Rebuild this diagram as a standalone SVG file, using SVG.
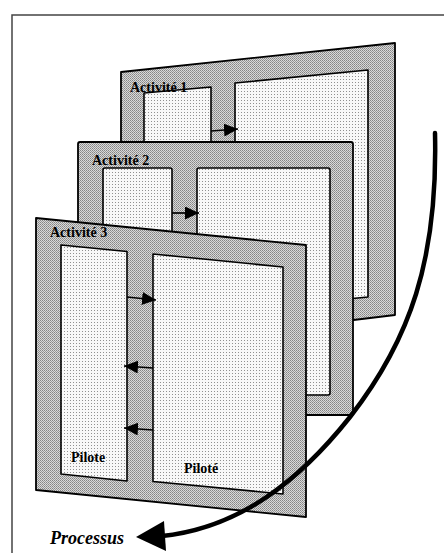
<svg xmlns="http://www.w3.org/2000/svg" width="444" height="553" viewBox="0 0 444 553">
<defs>
<pattern id="dense" width="2" height="2" patternUnits="userSpaceOnUse">
<rect width="2" height="2" fill="#d9d9d9"/>
<rect x="0" y="0" width="1" height="1" fill="#858585"/>
<rect x="1" y="1" width="1" height="1" fill="#9a9a9a"/>
</pattern>
<pattern id="light" width="3" height="3" patternUnits="userSpaceOnUse">
<rect width="3" height="3" fill="#f8f8f8"/>
<rect x="1" y="1" width="1" height="1" fill="#909090"/>
</pattern>
<marker id="ah" viewBox="0 0 14 13" refX="14" refY="6.5" markerWidth="14" markerHeight="13" markerUnits="userSpaceOnUse" orient="auto">
<path d="M0,0 L14,6.5 L0,13 Z" fill="#000"/>
</marker>
</defs>
<style>
.panel{fill:url(#dense);stroke:#000;stroke-width:1.8;stroke-linejoin:round}
.box{fill:url(#light);stroke:#000;stroke-width:1.6;stroke-linejoin:round}
.lbl{font-family:"Liberation Serif","Times New Roman",serif;font-weight:bold;font-size:14px;fill:#000}
.ar{stroke:#000;stroke-width:1.7;fill:none;marker-end:url(#ah)}
</style>
<rect x="12" y="15" width="440" height="545" fill="#fff" stroke="#444" stroke-width="1.5"/>
<g id="activite1">
<path class="panel" d="M121,72 L395,43 L395,315 L121,348 Z"/>
<path class="box" d="M144,93 L211,87 L211,340 L144,347 Z"/>
<path class="box" d="M235,83 L368,70 L368,297 L235,310 Z"/>
<text class="lbl" x="130" y="92">Activité 1</text>
</g>
<g id="activite2">
<rect class="panel" x="78" y="142" width="275" height="273" rx="2"/>
<rect class="box" x="103" y="168" width="69" height="227" rx="2"/>
<rect class="box" x="197" y="168" width="133" height="227" rx="2"/>
<text class="lbl" x="92" y="165">Activité 2</text>
</g>
<g id="activite3">
<path class="panel" d="M36,218 L306,245 L306,517 L36,490 Z"/>
<path class="box" d="M61,245 L127,251.5 L127,481 L61,474 Z"/>
<text class="lbl" x="71" y="462">Pilote</text>
<path class="box" d="M153,254 L283,267 L283,494 L153,481.5 Z"/>
<text class="lbl" x="184" y="473">Piloté</text>
<text class="lbl" x="50" y="237">Activité 3</text>
</g>
<g id="processus">
<text x="50" y="544" font-family="'Liberation Serif','Times New Roman',serif" font-weight="bold" font-style="italic" font-size="18" fill="#000">Processus</text>
</g>
<g id="connectors">
<path class="ar" d="M211,131 L238,129"/>
<path class="ar" d="M172,213 L199,213"/>
<path class="ar" d="M127,297 L156,300"/>
<path class="ar" d="M153,368 L124,366"/>
<path class="ar" d="M153,430 L124,428"/>
<path d="M435,133 C438,260 410,340 350,417 C300,480 240,528 162,536" fill="none" stroke="#000" stroke-width="4.5" stroke-linecap="round"/>
<path d="M136,537 L164,521 L166,551 Z" fill="#000"/>
</g>
</svg>
